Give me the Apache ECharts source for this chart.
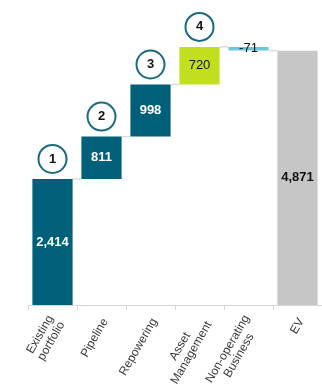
<!DOCTYPE html>
<html>
<head>
<meta charset="utf-8">
<script src="https://cdn.jsdelivr.net/npm/echarts@6/dist/echarts.min.js"></script>
<style>
  html, body { margin: 0; padding: 0; background: #fff; }
  #chart { width: 322px; height: 387px; }
</style>
</head>
<body>
<div id="chart"></div>
<script>
// Value bridge: existing portfolio + value drivers -> EV
const categories = ['Existing\nportfolio', 'Pipeline', 'Repowering', 'Asset\nManagement', 'Non-operating\nBusiness', 'EV'];
const values = [2414, 811, 998, 720, -71, 4871];
const isTotal = [false, false, false, false, false, true];
const stepMarks = ['1', '2', '3', '4', '', ''];
const barColors = ['#00607a', '#00607a', '#00607a', '#c2df1f', '#6cc7dc', '#c6c6c6'];
const labelColors = ['#ffffff', '#ffffff', '#ffffff', '#111111', '#111111', '#111111'];
const labelWeights = ['bold', 'bold', 'bold', 'normal', 'normal', 'bold'];

// Floating bar geometry derived from the running total
const bases = [];
const heights = [];
const levels = []; // running total after each bar, for connectors
let cum = 0;
values.forEach((v, i) => {
  if (isTotal[i]) {
    bases.push(0);
    heights.push(v);
    cum = v;
  } else if (v >= 0) {
    bases.push(cum);
    heights.push(v);
    cum += v;
  } else {
    cum += v;
    bases.push(cum);
    heights.push(-v);
  }
  levels.push(cum);
});
const tops = bases.map((b, i) => b + heights[i]);

const fmt = v => v.toLocaleString('en-US');
const FONT = '"Liberation Sans", Arial, sans-serif';
const BAR_RATIO = 0.82;

const chart = echarts.init(document.getElementById('chart'), null, { renderer: 'canvas' });

chart.setOption({
  animation: false,
  backgroundColor: '#ffffff',
  grid: { left: 28, right: 0, top: 10, bottom: 82, containLabel: false, outerBoundsMode: 'none' },
  xAxis: {
    type: 'category',
    data: categories,
    axisLine: { lineStyle: { color: '#d6d6d6', width: 1 } },
    axisTick: { show: true, length: 5, lineStyle: { color: '#d6d6d6' } },
    axisLabel: {
      interval: 0,
      rotate: 60,
      margin: 12,
      padding: [9, 0, 0, 0],
      // each line centred inside the rotated block
      formatter: v => v.split('\n').map(s => '{c|' + s + '}').join('\n'),
      rich: {
        c: {
          align: 'center',
          fontFamily: FONT,
          fontSize: 12,
          lineHeight: 13,
          color: '#3a3a3a'
        }
      },
      fontFamily: FONT,
      fontSize: 12,
      lineHeight: 13,
      color: '#3a3a3a'
    }
  },
  yAxis: {
    type: 'value',
    min: 0,
    max: 5650,
    show: false,
    splitLine: { show: false }
  },
  series: [
    {
      name: 'base',
      type: 'bar',
      stack: 'bridge',
      barWidth: (BAR_RATIO * 100) + '%',
      itemStyle: { color: 'transparent' },
      emphasis: { disabled: true },
      data: bases
    },
    {
      name: 'value',
      type: 'bar',
      stack: 'bridge',
      barWidth: (BAR_RATIO * 100) + '%',
      data: heights.map((h, i) => ({
        value: h,
        itemStyle: { color: barColors[i] },
        label: {
          show: true,
          position: 'inside',
          formatter: () => fmt(values[i]),
          color: labelColors[i],
          fontWeight: labelWeights[i],
          fontFamily: FONT,
          fontSize: 13
        }
      }))
    },
    {
      name: 'connectors',
      type: 'custom',
      silent: true,
      z: 1,
      data: levels.slice(0, -1).map((lv, i) => [i, lv]),
      renderItem: (params, api) => {
        const i = api.value(0);
        const lv = api.value(1);
        const bw = api.size([1, 0])[0] * BAR_RATIO;
        const a = api.coord([i, lv]);
        const b = api.coord([i + 1, lv]);
        return {
          type: 'line',
          shape: { x1: a[0] + bw / 2, y1: a[1], x2: b[0] - bw / 2, y2: b[1] },
          style: { stroke: '#dcdcdc', lineWidth: 1.5 }
        };
      }
    },
    {
      name: 'steps',
      type: 'custom',
      silent: true,
      z: 5,
      data: tops.map((t, i) => [i, t, stepMarks[i]]).filter(d => d[2] !== ''),
      renderItem: (params, api) => {
        const p = api.coord([api.value(0), api.value(1)]);
        const cx = p[0];
        const cy = p[1] - 20;
        const txt = stepMarks[api.value(0)];
        return {
          type: 'group',
          children: [
            {
              type: 'circle',
              shape: { cx: cx, cy: cy, r: 14 },
              style: { fill: '#ffffff', stroke: '#1b6b80', lineWidth: 2 }
            },
            {
              type: 'text',
              style: {
                text: txt,
                x: cx,
                y: cy,
                align: 'center',
                verticalAlign: 'middle',
                font: 'bold 13px ' + FONT,
                fill: '#111111'
              }
            }
          ]
        };
      }
    }
  ]
});
</script>
</body>
</html>
